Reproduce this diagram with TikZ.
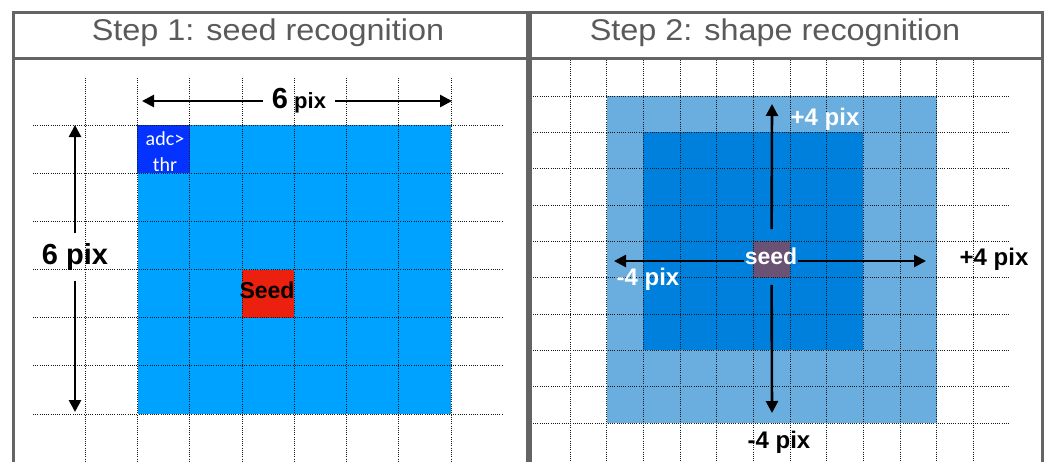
\documentclass[tikz,border=0pt]{standalone}
\usepackage{fontspec}
\setmainfont{Liberation Sans}
\newfontfamily\titlefont[FakeStretch=1.08]{Liberation Sans}
\newfontfamily\calfont{Carlito}
\usetikzlibrary{arrows.meta}
\definecolor{skyblue}{RGB}{0,162,255}
\definecolor{adcblue}{RGB}{4,51,255}
\definecolor{seedred}{RGB}{236,32,14}
\definecolor{lblue}{RGB}{106,174,224}
\definecolor{dblue}{RGB}{0,128,221}
\definecolor{seedpurple}{RGB}{106,82,117}
\definecolor{framegray}{RGB}{100,100,100}
\definecolor{titlegray}{RGB}{90,90,90}
\begin{document}
\begin{tikzpicture}[x=1pt,y=-1pt,
  gridline/.style={black!90,line width=0.7pt,dash pattern=on 0.9pt off 1.3pt},
  frame/.style={framegray,line width=3pt},
  titletext/.style={text=titlegray,font=\titlefont\fontsize{30}{30}\selectfont,anchor=base,inner sep=0},
  cellL/.style={inner sep=0,minimum width=52.25pt,minimum height=48.17pt},
  cellR/.style={inner sep=0,minimum width=36.67pt,minimum height=36.33pt},
  arr/.style={line width=2.6pt,-{Triangle[length=12pt,width=12pt]}},
  bl/.style={font=\bfseries\fontsize{24}{24}\selectfont,inner sep=0},
]
\useasboundingbox (0,0) rectangle (1054,461);
% ---------- left panel fills
\fill[skyblue] (137.5,125) rectangle (451,414);
\node[cellL,fill=adcblue] (adc) at (163.6,149.1) {};
\node[cellL,fill=seedred] (seedL) at (268.1,293.6) {};
% ---------- right panel fills
\fill[lblue] (606.7,96) rectangle (936.6,423);
\fill[dblue] (643.3,132.3) rectangle (863.3,350.3);
\node[cellR,fill=seedpurple] (seedcell) at (771.6,259.5) {};
% ---------- grids
\foreach \x in {85.25,137.5,189.75,242,294.25,346.5,398.75,451}
  \draw[gridline] (\x,78) -- (\x,461);
\foreach \y in {125,173.2,221.3,269.5,317.7,365.8,414}
  \draw[gridline] (33,\y) -- (503,\y);
\foreach \x in {570,606.7,643.3,680,716.6,753.3,790,826.6,863.3,900,936.6,973.3}
  \draw[gridline] (\x,60) -- (\x,461);
\foreach \y in {96,132.3,168.7,205,241.3,277.7,314,350.3,386.7,423}
  \draw[gridline] (533,\y) -- (1010,\y);
% ---------- frames
\draw[frame] (13,462) -- (13,12) -- (527,12) -- (527,462);
\draw[frame] (13,58) -- (527,58);
\draw[frame] (530,462) -- (530,12) -- (1042,12) -- (1042,462);
\draw[frame] (530,58) -- (1042,58);
\node[titletext] (t1) at (268,40) {Step 1: seed recognition};
\node[titletext] (t2) at (775,40) {Step 2: shape recognition};
% ---------- left texts and arrows
\node[text=white,font=\calfont\fontsize{20}{26}\selectfont,align=center,inner sep=0] (adclabel) at (165,152) {adc>\\thr};
\node[font=\bfseries\fontsize{23}{23}\selectfont,inner sep=0] (seedLtxt) at (267,290) {Seed};
\coordinate (Ltop) at (75,125);
\coordinate (Lbot) at (75,412);
\node[font=\bfseries\fontsize{29}{29}\selectfont,inner xsep=0,inner ysep=10pt] (L6) at (75,257) {6 pix};
\draw[arr] (L6) -- (Ltop);
\draw[arr] (L6) -- (Lbot);
\coordinate (Tleft) at (142,101);
\coordinate (Tright) at (452,101);
\node[font=\bfseries\fontsize{22}{22}\selectfont,inner xsep=9pt,inner ysep=0] (T6) at (299,101) {{\fontsize{29}{29}\selectfont 6} pix};
\draw[arr] (T6.west |- Tleft) -- (Tleft);
\draw[arr] (T6.east |- Tright) -- (Tright);
% ---------- right texts and arrows
\node[bl,text=white,font=\bfseries\fontsize{23}{23}\selectfont,inner xsep=1pt] (seedtxt) at (771,256) {seed};
\coordinate (Rtop) at (772,104);
\coordinate (Rbot) at (772,413);
\coordinate (Rl) at (614,261);
\coordinate (Rr) at (926,261);
\draw[arr,shorten <=12pt] (seedcell.north) -- (Rtop);
\draw[arr,shorten <=7pt] (seedcell.south) -- (Rbot);
\draw[arr] (seedtxt.west |- Rl) -- (Rl);
\draw[arr] (seedtxt.east |- Rr) -- (Rr);
\node[bl,text=white] (pT) at (825,119) {+4 pix};
\node[bl,text=white] (mL) at (648,279) {-4 pix};
\node[bl] (pR) at (994,259) {+4 pix};
\node[bl] (mB) at (779,442) {-4 pix};
\end{tikzpicture}
\end{document}
